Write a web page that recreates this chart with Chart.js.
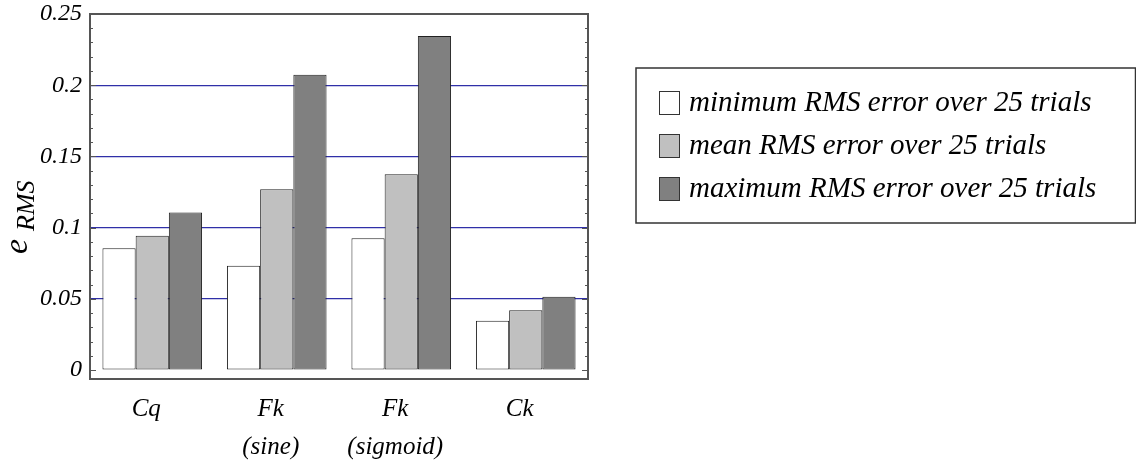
<!DOCTYPE html>
<html>
<head>
<meta charset="utf-8">
<title>RMS error</title>
<script src="https://cdn.jsdelivr.net/npm/chart.js"></script>
<style>
  html, body { margin: 0; padding: 0; background: #fff; }
  #wrap { width: 1136px; height: 468px; }
</style>
</head>
<body>
<div id="wrap"><canvas id="rmsChart" width="1136" height="468"></canvas></div>
<script>
// Data
const categories = ['Cq', ['Fk', '(sine)'], ['Fk', '(sigmoid)'], 'Ck'];
const minErr  = [0.0855, 0.0733, 0.0925, 0.0346];
const meanErr = [0.0943, 0.1269, 0.1374, 0.0419];
const maxErr  = [0.1107, 0.2074, 0.2346, 0.0515];
const seriesLabels = [
  'minimum RMS error over 25 trials',
  'mean RMS error over 25 trials',
  'maximum RMS error over 25 trials'
];
const yTickValues = [0, 0.05, 0.1, 0.15, 0.2, 0.25];
const yTickLabels = ['0', '0.05', '0.1', '0.15', '0.2', '0.25'];

const SERIF = "'Liberation Serif', 'Times New Roman', serif";

// frame round the plot plus inward tick marks on both sides
const framePlugin = {
  id: 'frame',
  afterDatasetsDraw(chart) {
    const { ctx, chartArea: a } = chart;
    const y = chart.scales.y;
    ctx.save();
    ctx.strokeStyle = '#555';
    ctx.lineWidth = 1;
    for (let i = 0; i <= 25; i++) {
      const py = Math.round(y.getPixelForValue(i / 100)) + 0.5;
      const len = i % 5 === 0 ? 6 : 3;
      ctx.beginPath();
      ctx.moveTo(a.left, py); ctx.lineTo(a.left + len, py);
      ctx.moveTo(a.right, py); ctx.lineTo(a.right - len, py);
      ctx.stroke();
    }
    ctx.lineWidth = 2;
    ctx.strokeRect(a.left, a.top, a.right - a.left, a.bottom - a.top);
    ctx.restore();
  }
};

// rotated e_RMS axis title
const titlePlugin = {
  id: 'ytitle',
  afterDraw(chart) {
    const ctx = chart.ctx;
    ctx.save();
    ctx.translate(27, 254);
    ctx.rotate(-Math.PI / 2);
    ctx.fillStyle = '#000';
    ctx.textBaseline = 'alphabetic';
    ctx.textAlign = 'left';
    ctx.font = 'italic 34px ' + SERIF;
    ctx.fillText('e', 0, 0);
    ctx.font = 'italic 26px ' + SERIF;
    ctx.fillText('RMS', 23, 7);
    ctx.restore();
  }
};

// boxed legend that sits over the right edge of the plot
const legendPlugin = {
  id: 'boxLegend',
  afterDraw(chart) {
    const ctx = chart.ctx;
    const x0 = 636, y0 = 68, x1 = 1135.5, y1 = 223;
    ctx.save();
    ctx.fillStyle = '#fff';
    ctx.fillRect(x0, y0, x1 - x0, y1 - y0);
    ctx.strokeStyle = '#333';
    ctx.lineWidth = 1.5;
    ctx.strokeRect(x0, y0, x1 - x0, y1 - y0);
    ctx.font = 'italic 29px ' + SERIF;
    ctx.textBaseline = 'middle';
    ctx.textAlign = 'left';
    chart.data.datasets.forEach((ds, i) => {
      const cy = 103 + i * 43;
      ctx.fillStyle = ds.backgroundColor;
      ctx.fillRect(659.5, cy - 11.5, 20, 23);
      ctx.strokeStyle = '#333';
      ctx.lineWidth = 1;
      ctx.strokeRect(659.5, cy - 11.5, 20, 23);
      ctx.fillStyle = '#000';
      ctx.fillText(ds.label, 689, cy);
    });
    ctx.restore();
  }
};

new Chart(document.getElementById('rmsChart').getContext('2d'), {
  type: 'bar',
  data: {
    labels: categories,
    datasets: [
      { label: seriesLabels[0], data: minErr,  backgroundColor: '#ffffff' },
      { label: seriesLabels[1], data: meanErr, backgroundColor: '#c0c0c0' },
      { label: seriesLabels[2], data: maxErr,  backgroundColor: '#808080' }
    ].map(d => Object.assign(d, {
      borderColor: '#222',
      borderWidth: 1,
      borderSkipped: false,
      categoryPercentage: 0.8,
      barPercentage: 1.0
    }))
  },
  options: {
    responsive: false,
    animation: false,
    layout: { padding: { top: 14, right: 548, bottom: 0, left: 0 } },
    plugins: {
      legend: { display: false },
      tooltip: { enabled: false }
    },
    scales: {
      x: {
        grid: { display: false, drawTicks: false },
        border: { display: false },
        ticks: {
          color: '#000',
          padding: 12,
          labelOffset: -6,
          maxRotation: 0,
          autoSkip: false,
          font: { family: SERIF, size: 25, style: 'italic', lineHeight: 1.5 }
        },
        afterFit(scale) { scale.height = 89; scale.paddingLeft = 0; scale.paddingRight = 0; }
      },
      y: {
        min: -0.0063,
        max: 0.25,
        grid: {
          drawTicks: false,
          color: ctx => (ctx.tick && ctx.tick.value > 0 && ctx.tick.value < 0.25) ? '#3030a8' : 'rgba(0,0,0,0)',
          lineWidth: 1.3
        },
        border: { display: false },
        afterBuildTicks(scale) {
          scale.ticks = yTickValues.map(v => ({ value: v }));
        },
        ticks: {
          color: '#000',
          padding: 8,
          font: { family: SERIF, size: 24, style: 'italic' },
          callback: (v, i) => yTickLabels[i]
        },
        afterFit(scale) { scale.width = 90; scale.paddingTop = 0; scale.paddingBottom = 0; }
      }
    }
  },
  plugins: [framePlugin, titlePlugin, legendPlugin]
});
</script>
</body>
</html>
